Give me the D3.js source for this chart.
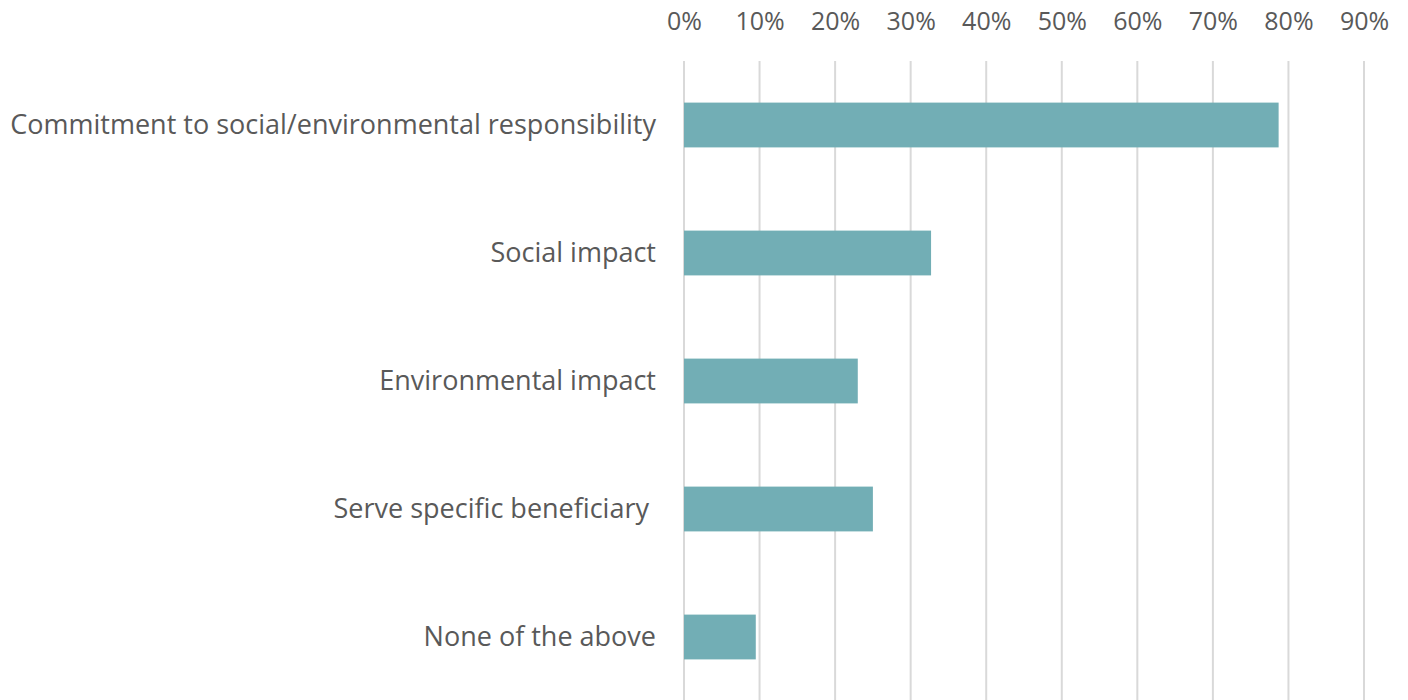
<!DOCTYPE html>
<html>
<head>
<meta charset="utf-8">
<script src="https://cdn.jsdelivr.net/npm/d3@7"></script>
<style>
  body { margin: 0; background: #fff; }
  svg text { font-family: "Open Sans", sans-serif; fill: #595959; white-space: pre; }
</style>
</head>
<body>
<svg id="chart" width="1408" height="700"></svg>
<script>
// data
var categories = [
    "Commitment to social/environmental responsibility",
    "Social impact",
    "Environmental impact",
    "Serve specific beneficiary ",
    "None of the above"
];
var values = [0.787, 0.327, 0.230, 0.250, 0.095];
var tickValues = [0, 0.1, 0.2, 0.3, 0.4, 0.5, 0.6, 0.7, 0.8, 0.9];

var svg = d3.select('#chart');
// plot area (note: "top" is reserved on window, so use plot* names)
var plotLeft = 684, plotRight = 1364, plotTop = 61, plotBottom = 701;

var x = d3.scaleLinear().domain([0, 0.9]).range([plotLeft, plotRight]);
var y = d3.scaleBand()
    .domain(categories)
    .range([plotTop, plotBottom])
    .paddingInner(0.65)
    .paddingOuter(0.325);

// gridlines
svg.append('g').selectAll('line')
    .data(tickValues)
    .enter().append('line')
    .attr('x1', function (d) { return x(d); })
    .attr('x2', function (d) { return x(d); })
    .attr('y1', plotTop)
    .attr('y2', plotBottom)
    .attr('stroke', '#d9d9d9')
    .attr('stroke-width', 2);

// top axis labels
var xAxis = d3.axisTop(x)
    .tickValues(tickValues)
    .tickFormat(d3.format('.0%'))
    .tickSize(0)
    .tickPadding(0);
var gx = svg.append('g')
    .attr('transform', 'translate(0,30)')
    .call(xAxis);
gx.select('.domain').remove();
gx.selectAll('text')
    .attr('dy', 0)
    .style('font-size', '25px')
    .style('font-family', '"Open Sans", sans-serif')
    .attr('fill', '#595959');

// bars
svg.append('g').selectAll('rect')
    .data(values)
    .enter().append('rect')
    .attr('x', x(0))
    .attr('y', function (d, i) { return y(categories[i]); })
    .attr('width', function (d) { return x(d) - x(0); })
    .attr('height', y.bandwidth())
    .attr('fill', '#72aeb5');

// category labels
var yAxis = d3.axisLeft(y).tickSize(0).tickPadding(0);
var gy = svg.append('g')
    .attr('transform', 'translate(656,0)')
    .call(yAxis);
gy.select('.domain').remove();
gy.selectAll('text')
    .style('font-size', '27px')
    .style('font-family', '"Open Sans", sans-serif')
    .style('white-space', 'pre')
    .attr('fill', '#595959');
</script>
</body>
</html>
